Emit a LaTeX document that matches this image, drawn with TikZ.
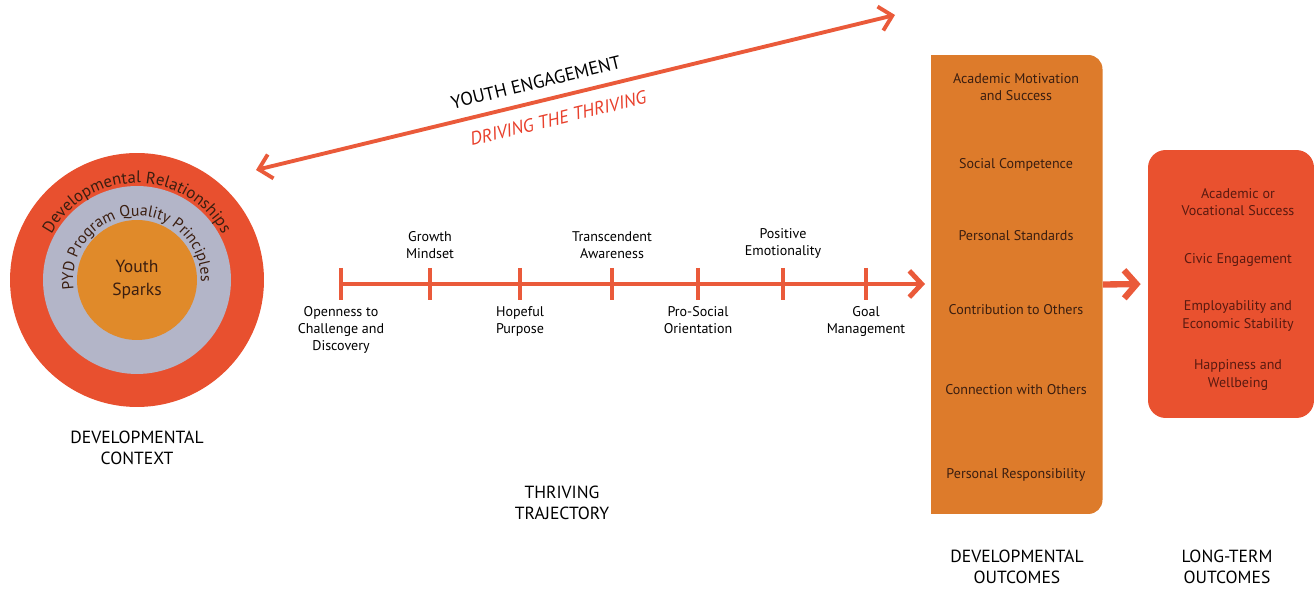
\documentclass[tikz,border=0pt]{standalone}
\usepackage{fontspec}
\setmainfont{PT Sans}
\usetikzlibrary{arrows.meta,decorations.text,positioning}
\definecolor{ringred}{HTML}{E8502F}
\definecolor{ringgrey}{HTML}{B3B5C8}
\definecolor{sparkor}{HTML}{E08A2A}
\definecolor{linered}{HTML}{EA5A3A}
\definecolor{drivered}{HTML}{E8402C}
\definecolor{boxor}{HTML}{DD7B2B}
\definecolor{boxred}{HTML}{E9512F}
\definecolor{txtdark}{HTML}{3B1E10}
\definecolor{txtred}{HTML}{5A1A10}
\tikzset{
    CR1/.style ={circle, minimum size = 5.08cm, inner sep = 0pt, fill=ringred},
    CR2/.style ={circle, minimum size = 3.76cm, inner sep = 0pt, fill=ringgrey},
    CR3/.style ={circle, minimum size = 2.40cm, inner sep = 0pt, fill=sparkor, align=center,
                 text=txtdark, font=\fontsize{10}{13}\selectfont},
    RA1/.style ={rectangle, minimum width = 3.42cm, minimum height = 9.18cm, inner sep = 0pt,
                 fill=boxor, rounded corners = 8pt},
    RA2/.style ={rectangle, minimum width = 3.32cm, minimum height = 5.36cm, inner sep = 0pt,
                 fill=boxred, rounded corners = 10pt},
    TX1/.style ={align=center, inner sep = 0pt, text=txtdark, font=\fontsize{8}{9.8}\selectfont},
    TX2/.style ={align=center, inner sep = 0pt, text=txtred, font=\fontsize{8}{9.8}\selectfont},
    TL/.style ={align=center, inner sep = 0pt, font=\fontsize{8}{9.8}\selectfont},
    HD/.style ={align=center, inner sep = 0pt, font=\fontsize{10}{12.2}\selectfont},
    TK/.style ={draw=linered, line width = 2.8pt},
    AR/.style ={draw=linered, line width = 2.8pt, -{Straight Barb[length=7pt,width=15pt]}},
    YE/.style ={draw=linered, line width = 2.2pt,
                {Straight Barb[length=7pt,width=14pt]}-{Straight Barb[length=7pt,width=14pt]}},
    BA/.style ={draw=linered, line width = 3.6pt, -{Straight Barb[length=7pt,width=16pt]}},
    SU/.style ={sloped, inner sep = 0pt}}

\begin{document}
\begin{tikzpicture}[x=0.02cm, y=0.02cm]
    \useasboundingbox (0,0) rectangle (1314,-590);

    % developmental context
    \node[CR1] (DR) at (137,-280) {};
    \node[CR2] (PQ) at (137,-280) {};
    \node[CR3] (YS) at (137,-280) {Youth\\Sparks};
    \path[decorate, decoration={text along path, text align=center,
        text={|\fontsize{9.5}{11}\selectfont\color{txtdark}|Developmental Relationships}}]
        (DR.center) ++(172:97) arc[start angle=172, end angle=8, radius=97];
    \path[decorate, decoration={text along path, text align=center,
        text={|\fontsize{9}{11}\selectfont\color{txtdark}|PYD Program Quality Principles}}]
        (PQ.center) ++(215:64) arc[start angle=215, end angle=-28, radius=64];
    \node[HD, below=0.46cm of DR] (DC) {DEVELOPMENTAL\\CONTEXT};

    % youth engagement
    \coordinate (YE1) at (256,-170);
    \coordinate (YE2) at (895,-15);
    \draw[YE] (YE1) -- (YE2)
        node[SU, pos=0.445, above=6pt, font=\fontsize{10.5}{12}\selectfont] (YEL) {YOUTH ENGAGEMENT}
        node[SU, pos=0.465, below=7pt, text=drivered, font=\fontsize{10.5}{12}\itshape] (DTT) {DRIVING THE THRIVING};

    % thriving trajectory
    \foreach \n/\x in {1/341,2/430,3/520,4/612,5/698,6/783,7/866}{
        \coordinate (T\n) at (\x,-284);
        \draw[TK] (T\n) ++(0,16) -- ++(0,-32);
    }
    \coordinate (TE) at (925,-284);
    \draw[AR] (T1) -- (TE);
    \node[TL, below=0.44cm of T1] (L1) {Openness to\\Challenge and\\Discovery};
    \node[TL, above=0.5cm of T2] (L2) {Growth\\Mindset};
    \node[TL, below=0.44cm of T3] (L3) {Hopeful\\Purpose};
    \node[TL, above=0.5cm of T4] (L4) {Transcendent\\Awareness};
    \node[TL, below=0.44cm of T5] (L5) {Pro-Social\\Orientation};
    \node[TL, above=0.5cm of T6] (L6) {Positive\\Emotionality};
    \node[TL, below=0.44cm of T7] (L7) {Goal\\Management};
    \node[HD] (TT) at (562,-503) {THRIVING\\TRAJECTORY};

    % developmental outcomes
    \fill[boxor] (931,-55) rectangle (1020,-514);
    \node[RA1] (DO) at (1017,-284.5) {};
    \foreach \y/\t [count=\i] in {87/{Academic Motivation\\and Success}, 165/Social Competence,
        236/Personal Standards, 310/Contribution to Others, 390/Connection with Others,
        475/Personal Responsibility}
        \node[TX1] (do\i) at (1016,-\y) {\t};
    \node[HD, below=0.7cm of DO] (DOH) {DEVELOPMENTAL\\OUTCOMES};

    % long-term outcomes
    \node[RA2] (LT) at (1231,-284) {};
    \foreach \y/\t [count=\i] in {202/{Academic or\\Vocational Success}, 260/Civic Engagement,
        316/{Employability and\\Economic Stability}, 375/{Happiness and\\Wellbeing}}
        \node[TX2] (lt\i) at (1238,-\y) {\t};
    \node[HD, anchor=north] (LTH) at (DOH.north -| 1227,0) {LONG-TERM\\OUTCOMES};

    \draw[BA, shorten >=4pt] (DO.east) -- (LT.west);
\end{tikzpicture}
\end{document}
